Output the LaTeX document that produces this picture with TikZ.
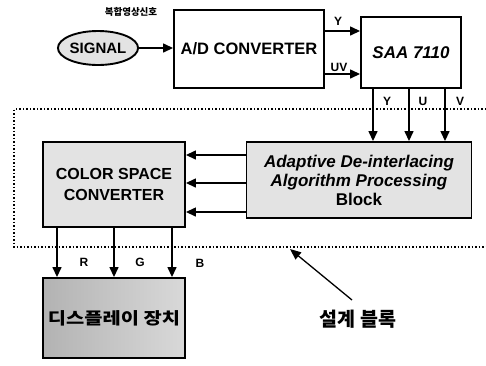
\documentclass[tikz,border=0pt]{standalone}
\usepackage{fontspec}
\setmainfont{Liberation Sans}
\newfontfamily\kr{Noto Sans CJK KR}
\newfontfamily\krw{Noto Sans CJK KR}[FakeStretch=1.2]
\usetikzlibrary{arrows.meta,shapes.geometric}
\begin{document}
\begin{tikzpicture}[x=1pt,y=-1pt,
  box/.style={draw, line width=1.9pt, inner sep=0pt, align=center, font=\bfseries},
  arr/.style={-{Triangle[length=10pt,width=9pt]}, line width=1.4pt},
  lbl/.style={font=\bfseries\fontsize{12}{13}\selectfont, inner sep=0pt}]
\useasboundingbox (0,0) rectangle (486,365);
% dotted design block
\draw[dotted, line width=1.5pt] (486,109) -- (14,109) -- (14,247) -- (486,247);
% nodes
\node[ellipse, draw, line width=1.9pt, fill=gray!22, minimum width=74pt, minimum height=34pt, inner sep=0pt,
      font=\bfseries\fontsize{15}{17}\selectfont] (sig) at (98,48) {SIGNAL};
\node[font=\kr\bfseries\fontsize{9.5}{10}\selectfont, inner sep=0pt] (siglbl) at (131,12) {복합영상신호};
\node[box, minimum width=150pt, minimum height=78pt, font=\bfseries\fontsize{16.5}{18}\selectfont] (ad) at (249,49) {A/D CONVERTER};
\node[box, minimum width=100pt, minimum height=71pt, font=\bfseries\itshape\fontsize{17}{19}\selectfont] (saa) at (411,52.5) {SAA 7110};
\node[box, fill=gray!22, minimum width=225pt, minimum height=76pt, font=\bfseries\fontsize{17}{19}\selectfont] (adp) at (359,180)
  {\itshape Adaptive De-interlacing\\ \itshape Algorithm Processing\\ Block};
\node[box, fill=gray!22, minimum width=142pt, minimum height=85pt, font=\bfseries\fontsize{16}{21}\selectfont] (csc) at (114,184.5)
  {COLOR SPACE\\ CONVERTER};
\node[box, left color=gray!60, right color=gray!30, minimum width=142pt, minimum height=80pt, font=\krw\bfseries\fontsize{16.5}{18}\selectfont] (disp) at (114,318)
  {디스플레이 장치};
\node[font=\kr\bfseries\fontsize{19.5}{21}\selectfont, inner sep=0pt] (dlbl) at (358,319) {설계 블록};
% helper coordinates
\coordinate (ya) at (0,31);
\coordinate (uva) at (0,74);
\coordinate (xy) at (373,0);
\coordinate (xu) at (409,0);
\coordinate (xv) at (445,0);
\coordinate (h1) at (0,155);
\coordinate (h2) at (0,183);
\coordinate (h3) at (0,212);
\coordinate (xr) at (57,0);
\coordinate (xg) at (114,0);
\coordinate (xb) at (172,0);
\coordinate (dtail) at (352,300);
\coordinate (dtip) at (290,249);
% connectors
\draw[arr] (sig) -- (ad.west |- sig);
\draw[arr] (ad.east |- ya) -- (saa.west |- ya);
\draw[arr] (ad.east |- uva) -- (saa.west |- uva);
\draw[arr] (saa.south -| xy) -- (adp.north -| xy);
\draw[arr] (saa.south -| xu) -- (adp.north -| xu);
\draw[arr] (saa.south -| xv) -- (adp.north -| xv);
\draw[arr] (adp.west |- h1) -- (csc.east |- h1);
\draw[arr] (adp.west |- h2) -- (csc.east |- h2);
\draw[arr] (adp.west |- h3) -- (csc.east |- h3);
\draw[arr] (csc.south -| xr) -- (disp.north -| xr);
\draw[arr] (csc.south -| xg) -- (disp.north -| xg);
\draw[arr] (csc.south -| xb) -- (disp.north -| xb);
\draw[-{Triangle[length=11pt,width=9pt]}, line width=1.3pt] (dtail) -- (dtip);
% labels
\node[lbl] (ly) at (338,21) {Y};
\node[lbl] (luv) at (339,67) {UV};
\node[lbl] (lY) at (387,101) {Y};
\node[lbl] (lU) at (423,101) {U};
\node[lbl] (lV) at (460,101) {V};
\node[lbl] (lR) at (84,262) {R};
\node[lbl] (lG) at (140,262) {G};
\node[lbl] (lB) at (200,263) {B};
\end{tikzpicture}
\end{document}
